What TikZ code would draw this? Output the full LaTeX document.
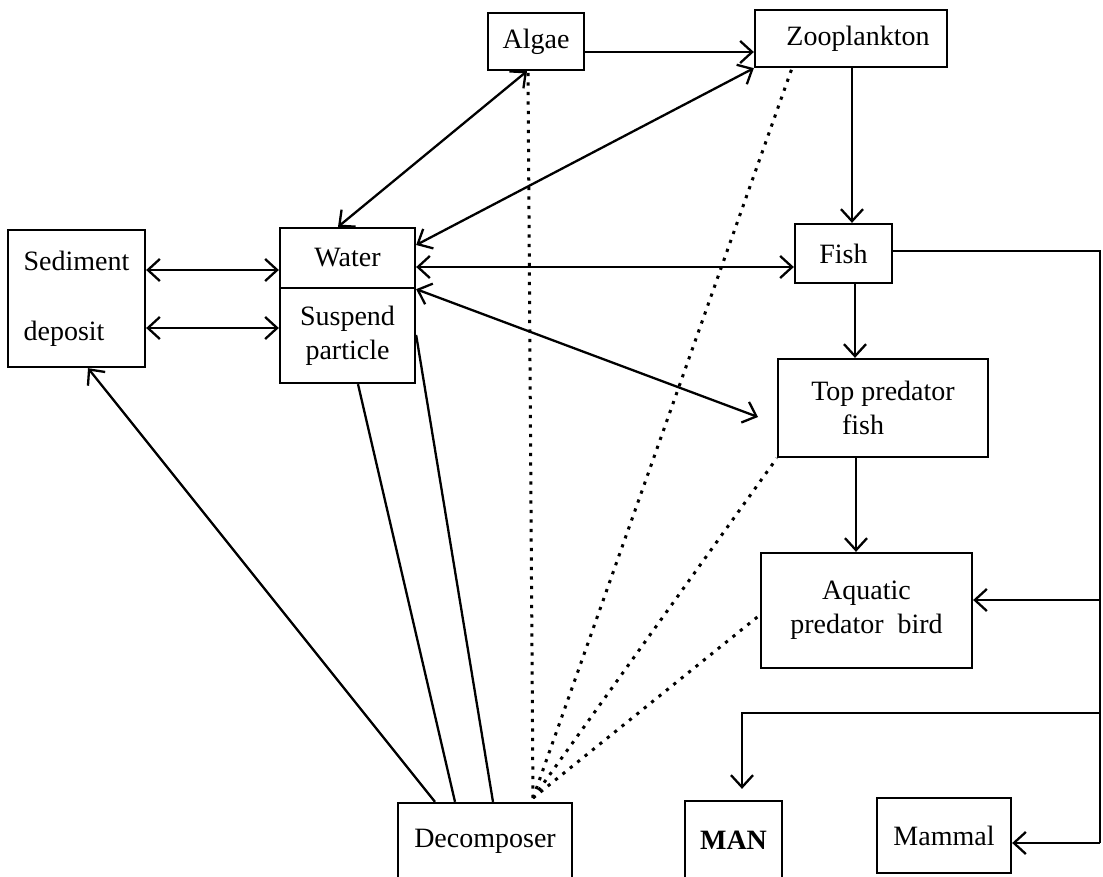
\documentclass[tikz,border=0pt]{standalone}
\usepackage{fontspec}
\setmainfont{Liberation Serif}
\usetikzlibrary{arrows.meta}
\tikzset{
  box/.style={
    draw, line width=2.3pt, inner sep=0pt, align=center,
    font=\fontsize{28}{34}\selectfont
  },
  link/.style={line width=2.3pt},
  dots/.style={line width=3pt, dash pattern=on 3.2pt off 6.3pt}
}

\begin{document}
\begin{tikzpicture}[x=1pt, y=-1pt, >={Straight Barb[length=12pt,width=22pt]}]
                    \useasboundingbox (0,0) rectangle (1103,876);
                    \begin{scope}[every node/.style={box}]
                        \node[minimum width=96,  minimum height=57]  (Algae)  at (536,41.5)   {Algae};
                        \node[minimum width=192, minimum height=57]  (Zoo)    at (851,38.5)   {\hspace*{14pt}Zooplankton};
                        \node[minimum width=137, minimum height=137, align=left] (Sed) at (76.5,298.5) {Sediment\\[36pt]deposit};
                        \node[minimum width=135, minimum height=60]  (Water)  at (347.5,258)  {Water};
                        \node[minimum width=135, minimum height=95]  (Susp)   at (347.5,335.5) {Suspend\\particle};
                        \node[minimum width=97,  minimum height=59]  (Fish)   at (843.5,253.5) {Fish};
                        \node[minimum width=210, minimum height=98]  (Top)    at (883,408)    {Top predator\\fish\hspace*{40pt}};
                        \node[minimum width=211, minimum height=115] (Bird)   at (866.5,610.5) {Aquatic\\predator\ \ bird};
                        \node[minimum width=174, minimum height=77]  (Dec)    at (485,841.5)  {Decomposer};
                        \node[minimum width=97,  minimum height=79]  (Man)    at (733.5,840.5) {\textbf{MAN}};
                        \node[minimum width=134, minimum height=75]  (Mammal) at (944,835.5)  {Mammal};
                    \end{scope}
                    % free ends and bends
                    \coordinate (topTip)    at (758,417);
                    \coordinate (decTip)    at (533,798);
                    \coordinate (railTop)   at (1100,251);
                    \coordinate (railBird)  at (1100,600);
                    \coordinate (railMan)   at (1100,713);
                    \coordinate (railMam)   at (1100,843);
                    \coordinate (manTurn)   at (742,713);
                    \begin{scope}[every edge/.style={draw,link}]
                        \path [->] (Algae.east |- 0,52) edge (Zoo.west |- 0,52);
                        \path [<->] (Water.north -| 338,0) edge (Algae.south -| 527,0);
                        \path [<->] (Water.east |- 0,245) edge (Zoo.south west);
                        \path [<->] (Water.east |- 0,267) edge (Fish.west |- 0,267);
                        \path [<->] (Water.south east) edge (topTip);
                        \path [<->] (Sed.east |- 0,270) edge (Water.west |- 0,270);
                        \path [<->] (Sed.east |- 0,328) edge (Susp.west |- 0,328);

                        \path [->] (Zoo.south -| 852,0) edge (Fish.north -| 852,0);
                        \path [->] (Fish.south -| 855,0) edge (Top.north -| 855,0);
                        \path [->] (Top.south -| 856,0) edge (Bird.north -| 856,0);

                        \path [->] (Dec.north -| 435,0) edge (Sed.south -| 88,0);
                        \path (Dec.north -| 455,0) edge (Susp.south -| 358,0);
                        \path (Dec.north -| 493,0) edge (Susp.east |- 0,335);
                    \end{scope}
                    \draw[link] (Fish.east |- railTop) -- (railTop) -- (railMam);
                    \draw[link,->] (railBird) -- (Bird.east |- railBird);
                    \draw[link,->] (railMan) -- (manTurn) -- ([yshift=11pt]Man.north -| manTurn);
                    \draw[link,->] (railMam) -- (Mammal.east |- railMam);
                    \begin{scope}[every edge/.style={draw,dots}]
                        \path (decTip) edge (Algae.south -| 528,0);
                        \path (decTip) edge (Zoo.south -| 792,0);
                        \path (decTip) edge (Top.south west);
                        \path (decTip) edge (Bird.west |- 0,615);
                    \end{scope}
                \end{tikzpicture}
\end{document}
